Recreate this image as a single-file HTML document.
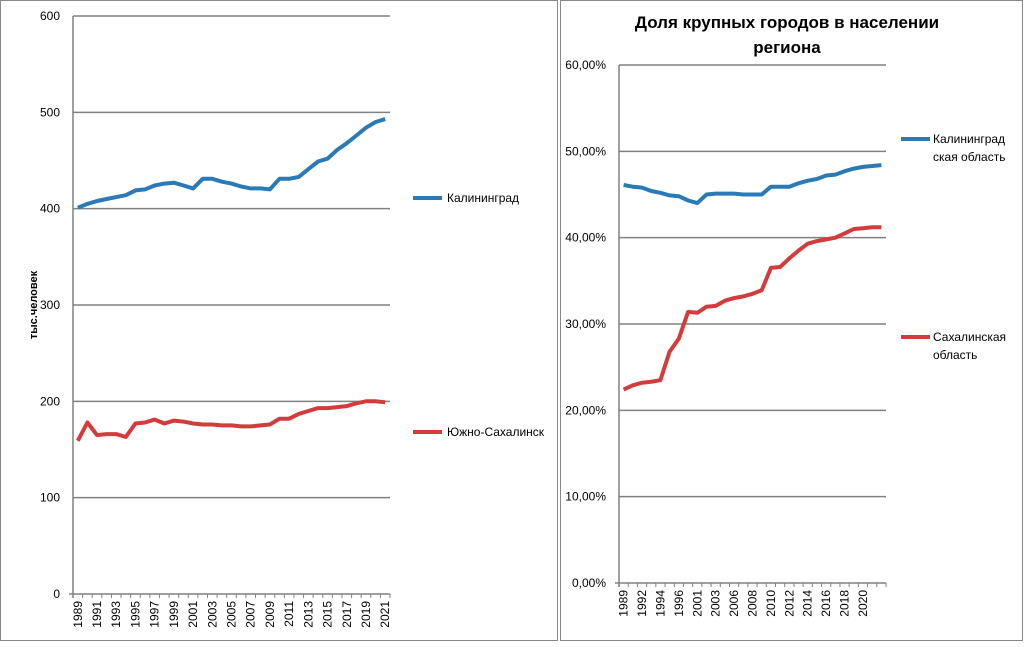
<!DOCTYPE html>
<html><head><meta charset="utf-8"><style>
body{margin:0;background:#fff;width:1024px;height:642px;overflow:hidden;font-family:"Liberation Sans",sans-serif}
svg text{font-family:"Liberation Sans",sans-serif;font-size:12px;fill:#000}
</style></head><body>
<svg id="s" width="1024" height="642" xmlns="http://www.w3.org/2000/svg">
<rect x="0.5" y="0.5" width="557" height="640" fill="#fff" stroke="#888"/>
<rect x="560.5" y="0.5" width="462" height="640" fill="#fff" stroke="#888"/>
<text x="787" y="28" text-anchor="middle" style="font-size:17px;font-weight:bold">Доля крупных городов в населении</text>
<text x="787" y="53" text-anchor="middle" style="font-size:17px;font-weight:bold">региона</text>
<text transform="translate(37,305) rotate(-90)" text-anchor="middle" style="font-size:11px;font-weight:bold">тыс.человек</text>
<line x1="413" y1="198" x2="442" y2="198" stroke="#2a7ab8" stroke-width="4"/>
<text x="447" y="202">Калининград</text>
<line x1="413" y1="432" x2="442" y2="432" stroke="#d43b3b" stroke-width="4"/>
<text x="447" y="436">Южно-Сахалинск</text>
<line x1="901" y1="139" x2="930" y2="139" stroke="#2a7ab8" stroke-width="4"/>
<text x="933" y="143">Калининград</text><text x="933" y="161">ская область</text>
<line x1="901" y1="337" x2="930" y2="337" stroke="#d43b3b" stroke-width="4"/>
<text x="933" y="341">Сахалинская</text><text x="933" y="359">область</text>
<g id="g"></g>
</svg>
<script>
var g=document.getElementById('g'),h='';
function L(x1,y1,x2,y2,c,w){h+='<line x1="'+x1+'" y1="'+y1+'" x2="'+x2+'" y2="'+y2+'" stroke="'+c+'" stroke-width="'+w+'"/>';}
function T(x,y,t,a){h+='<text x="'+x+'" y="'+y+'" text-anchor="'+(a||'end')+'">'+t+'</text>';}
function R(x,y,t){h+='<text transform="translate('+x+','+y+') rotate(-90)" text-anchor="end">'+t+'</text>';}
// left chart
var lx0=73,lx1=390,ly0=594,ly1=16,n=33,cw=(lx1-lx0)/n;
for(var i=0;i<=6;i++){var y=ly0-(ly0-ly1)*i/6;if(i>0)L(lx0,y,lx1,y,'#808080',1.5);T(60,y+4,i*100);}
L(lx0,ly1,lx0,ly0+4,'#808080',1.5);L(lx0-4,ly0,lx1,ly0,'#808080',1.5);
for(i=0;i<=n;i++)L(lx0+i*cw,ly0,lx0+i*cw,ly0+4,'#808080',1);
for(i=0;i<n;i+=2)R(lx0+cw*(i+.5)+4,601,1989+i);
var k=[401,405,408,410,412,414,419,420,424,426,427,424,421,431,431,428,426,423,421,421,420,431,431,433,441,449,452,461,468,476,484,490,493];
var s=[159,178,165,166,166,163,177,178,181,177,180,179,177,176,176,175,175,174,174,175,176,182,182,187,190,193,193,194,195,198,200,200,199];
function P(d,x0,c,yf){var p='';for(var j=0;j<d.length;j++)p+=(j?'L':'M')+(x0+c*(j+.5)).toFixed(1)+','+yf(d[j]).toFixed(1);return p;}
var lf=function(v){return ly0-v*(ly0-ly1)/600;};
h+='<path d="'+P(k,lx0,cw,lf)+'" fill="none" stroke="#2a7ab8" stroke-width="4" stroke-linejoin="round"/>';
h+='<path d="'+P(s,lx0,cw,lf)+'" fill="none" stroke="#d43b3b" stroke-width="4" stroke-linejoin="round"/>';
// right chart
var rx0=619,rx1=886,ry0=583,ry1=65,m=29,rw=(rx1-rx0)/m;
for(i=0;i<=6;i++){var y=ry0-(ry0-ry1)*i/6;if(i>0)L(rx0,y,rx1,y,'#808080',1.5);T(606,y+4,(i*10)+',00%');}
L(rx0,ry1,rx0,ry0+4,'#808080',1.5);L(rx0-4,ry0,rx1,ry0,'#808080',1.5);
for(i=0;i<=m;i++)L(rx0+i*rw,ry0,rx0+i*rw,ry0+4,'#808080',1);
var yl=['1989','1992','1994','1996','2001','2003','2006','2008','2010','2012','2014','2016','2018','2020'];
for(i=0;i<yl.length;i++)R(rx0+rw*(2*i+.5)+4,590,yl[i]);
var k2=[46.1,45.9,45.8,45.4,45.2,44.9,44.8,44.3,44.0,45.0,45.1,45.1,45.1,45.0,45.0,45.0,45.9,45.9,45.9,46.3,46.6,46.8,47.2,47.3,47.7,48.0,48.2,48.3,48.4];
var s2=[22.4,22.9,23.2,23.3,23.5,26.8,28.3,31.4,31.3,32.0,32.1,32.7,33.0,33.2,33.5,33.9,36.5,36.6,37.6,38.5,39.3,39.6,39.8,40.0,40.5,41.0,41.1,41.2,41.2];
var rf=function(v){return ry0-v*(ry0-ry1)/60;};
h+='<path d="'+P(k2,rx0,rw,rf)+'" fill="none" stroke="#2a7ab8" stroke-width="4" stroke-linejoin="round"/>';
h+='<path d="'+P(s2,rx0,rw,rf)+'" fill="none" stroke="#d43b3b" stroke-width="4" stroke-linejoin="round"/>';
g.innerHTML=h;
</script>
</body></html>
